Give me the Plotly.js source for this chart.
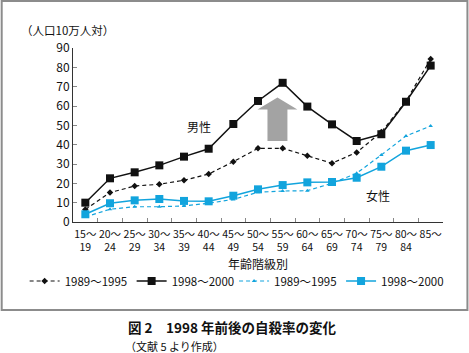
<!DOCTYPE html>
<html>
<head>
<meta charset="utf-8">
<script src="https://cdn.plot.ly/plotly-3.0.1.min.js"></script>
<style>
html,body{margin:0;padding:0;background:#fff;}
#chart{width:469px;height:353px;}
</style>
</head>
<body>
<div id="chart"></div>
<script>
const categories = ['15～<br>19','20～<br>24','25～<br>29','30～<br>34','35～<br>39','40～<br>44','45～<br>49','50～<br>54','55～<br>59','60～<br>64','65～<br>69','70～<br>74','75～<br>79','80～<br>84','85～'];
const male8995 = [6.5, 15.2, 18.6, 19.5, 21.6, 24.8, 31.2, 38.1, 38.1, 34.3, 30.4, 36.0, 46.5, 62.5, 84.3];
const male9800 = [10.0, 22.6, 25.7, 29.3, 33.8, 37.9, 50.7, 62.6, 72.0, 59.7, 50.5, 41.9, 45.4, 62.2, 80.9];
const female8995 = [2.6, 6.6, 7.9, 7.9, 8.3, 9.7, 11.7, 15.4, 16.0, 16.2, 20.0, 25.2, 34.7, 44.5, 49.7];
const female9800 = [4.0, 9.7, 11.2, 11.9, 10.9, 10.7, 13.6, 16.9, 19.1, 20.5, 20.7, 22.9, 28.6, 36.9, 39.8];
const seriesNames = ['1989～1995','1998～2000','1989～1995','1998～2000'];
const yTicks = [0,10,20,30,40,50,60,70,80,90];

const FONT = '"Noto Sans CJK JP", "Noto Sans", sans-serif';
const BLUE = '#12a4dd';

const traces = [
  {x: categories, y: male8995, name: seriesNames[0], type:'scatter', mode:'lines+markers', legend:'legend',
   line:{color:'#111', width:1.2, dash:'4px,3px'}, marker:{symbol:'diamond', size:5, color:'#111'}},
  {x: categories, y: male9800, name: seriesNames[1], type:'scatter', mode:'lines+markers', legend:'legend',
   line:{color:'#111', width:1.5}, marker:{symbol:'square', size:8, color:'#111'}},
  {x: categories, y: female8995, name: seriesNames[2], type:'scatter', mode:'lines+markers', legend:'legend2',
   line:{color:BLUE, width:1.2, dash:'4px,3px'}, marker:{symbol:'triangle-up', size:4, color:BLUE}},
  {x: categories, y: female9800, name: seriesNames[3], type:'scatter', mode:'lines+markers', legend:'legend2',
   line:{color:BLUE, width:1.5}, marker:{symbol:'square', size:8, color:BLUE}}
];

const L = 72.5, R = 443.5, T = 48, B = 222;
const W = R - L, H = B - T;
const px = v => (v - L) / W;
const py = v => (B - v) / H;

const legendBase = {orientation:'h', xanchor:'left', yanchor:'middle', y: py(281),
  font:{family: FONT, size:11.5, color:'#111'}, bgcolor:'rgba(0,0,0,0)',
  itemwidth: 30, entrywidthmode:'pixels', entrywidth: 62, borderwidth:0};

const layout = {
  width: 469, height: 353,
  margin: {l: L, r: 469 - R, t: T, b: 353 - B, pad: 0},
  paper_bgcolor: '#fff', plot_bgcolor: '#fff',
  font: {family: FONT, size: 12, color: '#111'},
  showlegend: true,
  legend: Object.assign({}, legendBase, {x: px(24)}),
  legend2: Object.assign({}, legendBase, {x: px(234)}),
  xaxis: {type:'category', range:[-0.5, 14.5], showgrid:false, zeroline:false,
          showline:true, linecolor:'#333', linewidth:1, tickangle:0,
          ticks:'inside', ticklen:4, tickcolor:'#888', tickson:'boundaries',
          ticklabelstandoff: 2,
          tickfont:{family: FONT, size:10.5, color:'#111'}, fixedrange:true},
  yaxis: {range:[0,90], tickvals: yTicks, showgrid:false, zeroline:false,
          showline:true, linecolor:'#333', linewidth:1,
          ticks:'inside', ticklen:4, tickcolor:'#888',
          tickfont:{family: FONT, size:12, color:'#111'}, fixedrange:true},
  shapes: [
    {type:'rect', xref:'paper', yref:'paper', x0: px(1), x1: px(468), y0: py(310), y1: py(1),
     line:{color:'#8c8c8c', width:2}, fillcolor:'rgba(0,0,0,0)', layer:'below'},
    {type:'path', xref:'paper', yref:'paper', fillcolor:'#a3a3a3', line:{width:0},
     path: 'M '+px(267.5)+' '+py(141)+' L '+px(287.5)+' '+py(141)+' L '+px(287.5)+' '+py(109.5)+
           ' L '+px(297.5)+' '+py(109.5)+' L '+px(277.5)+' '+py(97.5)+' L '+px(257.5)+' '+py(109.5)+
           ' L '+px(267.5)+' '+py(109.5)+' Z'}
  ],
  annotations: [
    {text:'（人口10万人対）', xref:'paper', yref:'paper', x: px(18), y: py(30), xanchor:'left', yanchor:'middle',
     showarrow:false, font:{family: FONT, size:11.5, color:'#111'}},
    {text:'男性', xref:'paper', yref:'paper', x: px(199), y: py(126), xanchor:'center', yanchor:'middle',
     showarrow:false, font:{family: FONT, size:12, color:'#111'}},
    {text:'女性', xref:'paper', yref:'paper', x: px(378), y: py(195), xanchor:'center', yanchor:'middle',
     showarrow:false, font:{family: FONT, size:12, color:'#111'}},
    {text:'年齢階級別', xref:'paper', yref:'paper', x: 0.5, y: py(263), xanchor:'center', yanchor:'middle',
     showarrow:false, font:{family: FONT, size:12, color:'#111'}},
    {text:'<b>図 2　1998 年前後の自殺率の変化</b>', xref:'paper', yref:'paper', x: px(126), y: py(327), xanchor:'left', yanchor:'middle',
     showarrow:false, font:{family: FONT, size:13.5, color:'#111'}},
    {text:'（文献 5 より作成）', xref:'paper', yref:'paper', x: px(123), y: py(345.5), xanchor:'left', yanchor:'middle',
     showarrow:false, font:{family: FONT, size:11, color:'#111'}}
  ]
};

Plotly.newPlot('chart', traces, layout, {displayModeBar:false, staticPlot:true});
</script>
</body>
</html>
